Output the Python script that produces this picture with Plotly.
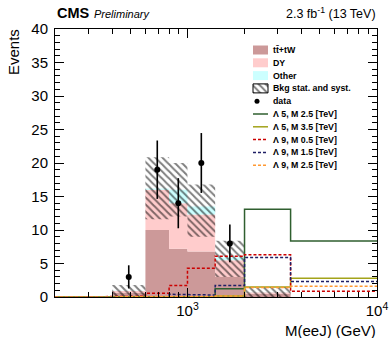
import numpy as np
import plotly.graph_objects as go

# ---------------- data ----------------
edges = [200, 400, 600, 800, 1000, 1400, 2000, 3500, 10000]
ttbar = [0, 0.6, 10.0, 7.2, 6.8, 3.0, 0.5, 0]
dy = [0, 0.3, 6.0, 6.8, 5.5, 2.5, 0.2, 0]
other = [0, 0.05, 0.2, 2.0, 1.2, 0.4, 0.05, 0]
band_lo = [0, 0, 11.6, 12.0, 9.0, 3.0, 0, 0]
band_hi = [0, 1.8, 20.85, 20.0, 16.8, 8.4, 1.5, 0]
data = [0, 3, 19, 14, 20, 8, 0, 0]
sig_l5_m25 = [0, 0, 0, 0, 0.05, 1.25, 13.1, 8.35]
sig_l5_m35 = [0, 0, 0, 0, 0, 0.15, 1.5, 2.8]
sig_l9_m05 = [0, 0.1, 0.55, 1.7, 4.3, 6.1, 6.3, 0.85]
sig_l9_m15 = [0, 0, 0.05, 0.4, 0.3, 1.7, 5.9, 2.3]
sig_l9_m25 = [0, 0, 0, 0, 0.05, 0.15, 1.4, 1.6]

# ---------------- helpers ----------------
def step_xy(e, v):
    xs, ys = [], []
    for i in range(len(v)):
        xs += [e[i], e[i + 1]]
        ys += [v[i], v[i]]
    return xs, ys

def band_poly(e, lo, hi):
    xh, yh = step_xy(e, hi)
    xl, yl = step_xy(e, lo)
    return xh + xl[::-1] + [xh[0]], yh + yl[::-1] + [yh[0]]

tt = np.array(ttbar)
d_y = np.array(dy)
oth = np.array(other)

C_TT = "#cc9999"
C_DY = "#ffcccc"
C_OT = "#ccffff"
C_L5M25 = "#2f5f2f"
C_L5M35 = "#a3a31a"
C_L9M05 = "#cc0000"
C_L9M15 = "#1f1f66"
C_L9M25 = "#ff9933"
DASH = "3px,2px"
HATCH = dict(shape="\\", size=5, solidity=0.4, fgcolor="black", bgcolor="rgba(0,0,0,0)")

fig = go.Figure()

stack = [(np.zeros(8), tt, C_TT), (tt, tt + d_y, C_DY), (tt + d_y, tt + d_y + oth, C_OT)]
for lo, hi, col in stack:
    px_, py_ = band_poly(edges, list(lo), list(hi))
    fig.add_trace(go.Scatter(x=px_, y=py_, fill="toself", fillcolor=col, mode="none",
                             hoverinfo="skip", showlegend=False))

bx, by = band_poly(edges, band_lo, band_hi)
fig.add_trace(go.Scatter(x=bx, y=by, fill="toself", fillcolor="rgba(0,0,0,0)",
                         fillpattern=HATCH, mode="none", showlegend=False))

signals = [
    (sig_l5_m25, C_L5M25, "solid"),
    (sig_l5_m35, C_L5M35, "solid"),
    (sig_l9_m05, C_L9M05, DASH),
    (sig_l9_m15, C_L9M15, DASH),
    (sig_l9_m25, C_L9M25, DASH),
]
for vals, col, dash in signals:
    sx, sy = step_xy(edges, vals)
    fig.add_trace(go.Scatter(x=sx, y=sy, mode="lines",
                             line=dict(color=col, width=1.5, dash=dash), showlegend=False))

centers = [np.sqrt(edges[i] * edges[i + 1]) for i in range(len(data))]
dx = [c for c, n in zip(centers, data) if n > 0]
dyv = [n for n in data if n > 0]
fig.add_trace(go.Scatter(x=dx, y=dyv, mode="markers",
                         marker=dict(color="black", size=6),
                         error_y=dict(type="data", array=list(np.sqrt(dyv)), width=0,
                                      thickness=1.6, color="black"),
                         showlegend=False))

# ---------------- legend (pixel overlay axes) ----------------
leg_labels = [
    "tt\u0304+tW", "DY", "Other", "Bkg stat. and syst.", "data",
    "\u039b 5, M 2.5 [TeV]", "\u039b 5, M 3.5 [TeV]", "\u039b 9, M 0.5 [TeV]",
    "\u039b 9, M 1.5 [TeV]", "\u039b 9, M 2.5 [TeV]",
]
x0s, x1s = 253, 268
y0 = 50
step = 12.8
annotations = []
for i, lab in enumerate(leg_labels):
    yc = y0 + i * step
    if i in (0, 1, 2, 3):
        col = [C_TT, C_DY, C_OT, "rgba(0,0,0,0)"][i]
        rx = [x0s, x1s, x1s, x0s, x0s]
        ry = [yc - 4.5, yc - 4.5, yc + 4.5, yc + 4.5, yc - 4.5]
        if i == 3:
            kw = dict(fillpattern=HATCH, mode="lines", line=dict(color="black", width=1))
        else:
            kw = dict(mode="none")
        fig.add_trace(go.Scatter(x=rx, y=ry, xaxis="x2", yaxis="y2", fill="toself",
                                 fillcolor=col, showlegend=False, hoverinfo="skip", **kw))
    elif i == 4:
        fig.add_trace(go.Scatter(x=[257], y=[yc], xaxis="x2", yaxis="y2", mode="markers",
                                 marker=dict(color="black", size=5), showlegend=False))
    else:
        vals, col, dash = signals[i - 5]
        fig.add_trace(go.Scatter(x=[x0s, x1s], y=[yc, yc], xaxis="x2", yaxis="y2", mode="lines",
                                 line=dict(color=col, width=1.5, dash=dash), showlegend=False))
    annotations.append(dict(x=271, y=yc, xref="x2", yref="y2", text="<b>" + lab + "</b>",
                            showarrow=False, xanchor="left", yanchor="middle",
                            font=dict(size=8.8, color="black", family="Liberation Sans, Arial")))

# ---------------- texts ----------------
L, R, T, B = 55, 377, 29, 297
def px2paper(x, y):
    return (x - L) / (R - L), (B - y) / (B - T)

ax_, ay_ = px2paper(55, 13)
annotations.append(dict(x=ax_, y=ay_, xref="paper", yref="paper", text="<b>CMS</b>",
                        showarrow=False, xanchor="left", yanchor="middle",
                        font=dict(size=14.5, color="black", family="Liberation Sans, Arial")))
ax_, ay_ = px2paper(92, 14)
annotations.append(dict(x=ax_, y=ay_, xref="paper", yref="paper", text="<i>Preliminary</i>",
                        showarrow=False, xanchor="left", yanchor="middle",
                        font=dict(size=11, color="black", family="Liberation Sans, Arial")))
ax_, ay_ = px2paper(378, 13)
annotations.append(dict(x=ax_, y=ay_, xref="paper", yref="paper",
                        text="2.3 fb<sup>-1</sup> (13 TeV)",
                        showarrow=False, xanchor="right", yanchor="middle",
                        font=dict(size=12.5, color="black", family="Liberation Sans, Arial")))
ax_, ay_ = px2paper(378, 330)
annotations.append(dict(x=ax_, y=ay_, xref="paper", yref="paper", text="M(eeJ) (GeV)",
                        showarrow=False, xanchor="right", yanchor="middle",
                        font=dict(size=15, color="black", family="Liberation Sans, Arial")))
ax_, ay_ = px2paper(14, 52)
annotations.append(dict(x=ax_, y=ay_, xref="paper", yref="paper", text="Events",
                        showarrow=False, xanchor="center", yanchor="middle", textangle=-90,
                        font=dict(size=15, color="black", family="Liberation Sans, Arial")))

minor_x = [200, 300, 400, 500, 600, 700, 800, 900, 2000, 3000, 4000, 5000, 6000, 7000, 8000, 9000]

fig.update_layout(
    width=389, height=338,
    margin=dict(l=L, r=389 - R, t=T, b=338 - B, pad=0, autoexpand=False),
    paper_bgcolor="white", plot_bgcolor="white",
    font=dict(family="Liberation Sans, Arial", color="black", size=15),
    xaxis=dict(type="log", range=[np.log10(200), 4], tickvals=[1000, 10000],
               ticktext=["10<sup>3</sup>", "10<sup>4</sup>"], ticks="inside", ticklen=9,
               tickcolor="black", showline=True, linecolor="black", linewidth=1,
               mirror="allticks", showgrid=False, zeroline=False, automargin=False,
               minor=dict(tickvals=minor_x, ticks="inside", ticklen=5, tickcolor="black",
                          showgrid=False),
               tickfont=dict(size=15)),
    yaxis=dict(range=[0, 40], dtick=5, tick0=0, ticks="inside", ticklen=9, tickcolor="black",
               showline=True, linecolor="black", linewidth=1, mirror="allticks",
               showgrid=False, zeroline=False, ticklabelstandoff=3, automargin=False,
               minor=dict(dtick=1, ticks="inside", ticklen=5, tickcolor="black", showgrid=False),
               tickfont=dict(size=15)),
    xaxis2=dict(overlaying="x", range=[L, R], visible=False, anchor="y2"),
    yaxis2=dict(overlaying="y", range=[B, T], visible=False, anchor="x2"),
    annotations=annotations,
    showlegend=False,
)

fig.write_html("out.html")
